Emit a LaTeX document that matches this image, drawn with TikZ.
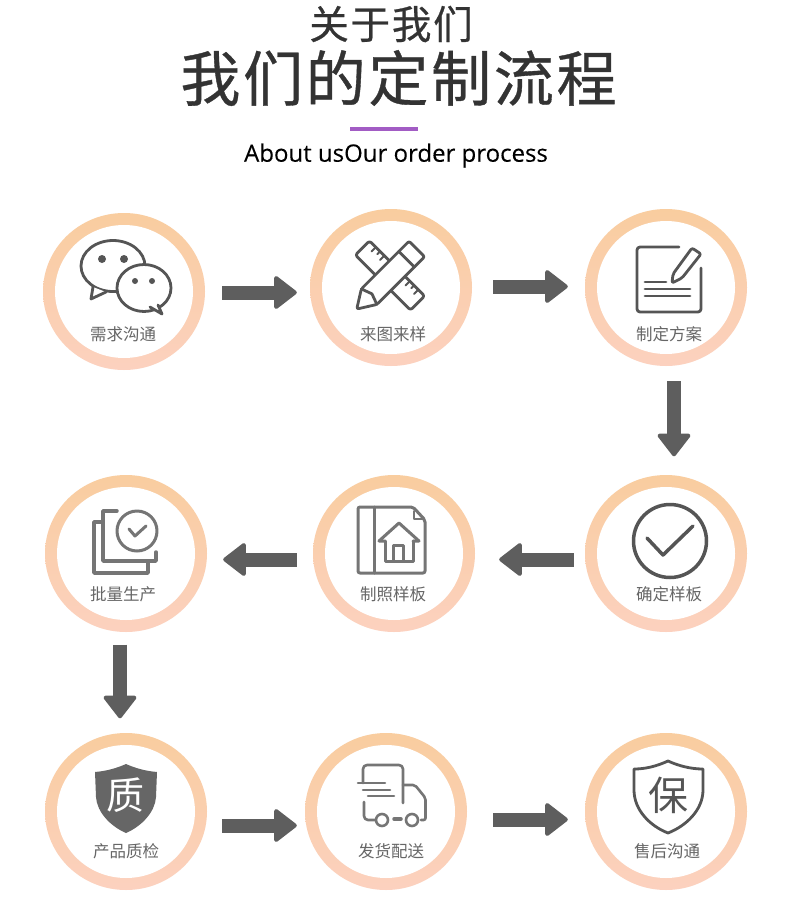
\documentclass[tikz,border=0pt]{standalone}
\usepackage{fontspec}
\usepackage{xcolor}
\usepackage{tikz}
\usetikzlibrary{arrows.meta,calc,positioning,shapes.geometric}
\setmainfont[FakeBold=0.15]{Open Sans}
\newfontfamily\cjk{Noto Sans CJK SC}
\newfontfamily\cjkwide[LetterSpace=4.5,FakeBold=0.6]{Noto Sans CJK SC}
\definecolor{Ink}{HTML}{333333}
\definecolor{Arrow}{HTML}{5E5E5E}
\definecolor{Icon}{HTML}{757575}
\definecolor{IconDark}{HTML}{555555}
\definecolor{Caption}{HTML}{666666}
\definecolor{Accent}{HTML}{A25CC4}
\definecolor{RingTop}{HTML}{F9CD9F}
\definecolor{RingBottom}{HTML}{FCD1BF}
\tikzset{
  ring/.style={ellipse,inner sep=0pt,minimum width=162pt,minimum height=157pt,top color=RingTop,bottom color=RingBottom,
    path picture={\fill[white] (path picture bounding box.center) ellipse (69pt and 66.5pt);}},
  caption/.style={Caption,inner sep=0pt,font=\cjk\fontsize{16.5}{18}\selectfont},
  flow/.style={Arrow,line width=14pt,-{Triangle[length=24pt,width=36pt,round,line width=4pt]}},
  icon/.style={Icon,line width=3pt,line cap=round,line join=round},
  icondark/.style={IconDark,line width=2.8pt,line cap=round,line join=round}
}
\begin{document}
\begin{tikzpicture}[x=1pt,y=-1pt,>=Latex]
  \fill[white] (0,0) rectangle (790,924);
  \node[Ink,inner sep=0pt,font=\cjkwide\fontsize{39.5}{40}\selectfont] (head) at (391,24) {关于我们};
  \node[Ink,inner sep=0pt,font=\cjkwide\fontsize{60}{62}\selectfont] (title) at (398.5,78) {我们的定制流程};
  \fill[Accent] (350,127) rectangle (418,130.5);
  \node[black,inner sep=0pt,font=\fontsize{24}{26}\selectfont] (sub) at (396,155.5) {About usOur order process};

  \foreach \name/\x/\y/\lx/\ly/\txt in {
    want/124/291.5/123/334/需求沟通, draft/391/287.5/393/334/来图来样, plan/666/287.5/669/334/制定方案,
    batch/126/553.5/123/594/批量生产, sample/394/553.5/393/594/制照样板, confirm/666/553.5/669/594/确定样板,
    check/126/811.5/126/851/产品质检, ship/386/811.5/391/851/发货配送, after/666/811.5/667/851/售后沟通}
  {
    \node[ring] (\name) at (\x,\y) {};
    \node[caption] (\name text) at (\lx,\ly) {\txt};
  }

  \draw[flow,shorten <=17pt,shorten >=13pt] ([yshift=-1pt]want.east) -- ([yshift=-5pt]draft.west);
  \draw[flow,shorten <=21pt,shorten >=17pt] ([yshift=1pt]draft.east) -- ([yshift=1pt]plan.west);
  \draw[flow,shorten <=15pt,shorten >=18.5pt] ([xshift=8pt]plan.south) -- ([xshift=8pt]confirm.north);
  \draw[flow,shorten <=11pt,shorten >=24pt] ([yshift=-6pt]confirm.west) -- ([yshift=-6pt]sample.east);
  \draw[flow,shorten <=16pt,shorten >=16pt] ([yshift=-6pt]sample.west) -- ([yshift=-6pt]batch.east);
  \draw[flow,shorten <=12.5pt,shorten >=14.5pt] ([xshift=-6pt]batch.south) -- ([xshift=-6pt]check.north);
  \draw[flow,shorten <=15pt,shorten >=8pt] ([yshift=-14pt]check.east) -- ([yshift=-14pt]ship.west);
  \draw[flow,shorten <=26pt,shorten >=17pt] ([yshift=-8pt]ship.east) -- ([yshift=-8pt]after.west);

  \draw[icondark,fill=white] (113,266) ellipse (32 and 25.5);
  \draw[icondark,fill=white] (93,287) -- (91,299) -- (106,292);
  \fill[IconDark] (102,259) circle (4) (124,259) circle (4);
  \draw[icondark,fill=white] (144,288) ellipse (27 and 23.5);
  \draw[icondark,fill=white] (150,307) -- (162,314) -- (158,305);
  \fill[IconDark] (135,281) circle (3) (152,281) circle (3);

  \begin{scope}[shift={(390,275.5)},rotate=-45]
    \draw[icondark,rounded corners=2.5pt] (-39,-10) rectangle (39,10);
    \foreach \t/\l in {-30/6,-24/4,-18/6,18/6,24/4,30/6}
      \draw[icondark,line width=2pt] (\t,-10) -- ++(0,\l);
  \end{scope}
  \begin{scope}[shift={(386.8,279)},rotate=45]
    \draw[icondark,fill=white,rounded corners=2pt] (-42.5,0) -- (-25,-11) -- (42.5,-11) -- (42.5,11) -- (-25,11) -- cycle;
    \draw[icondark] (28,-11) -- (28,11);
    \draw[icondark] (-25,-11) -- (-21,0) -- (-25,11);
  \end{scope}

  \draw[icondark,rounded corners=3pt] (679,247) -- (637,247) -- (637,312) -- (701,312) -- (701,268);
  \draw[icondark] (645,282) -- (666,282) (645,289) -- (690,289) (645,296) -- (690,296);
  \draw[icondark,rounded corners=2pt] (672,283) -- (673,274) -- (692,248) -- (701,254) -- (682,278) -- cycle;

  \draw[icon,line width=3.5pt] (103,522) -- (94,522) -- (94,573) -- (148,573) -- (148,562);
  \draw[icon,line width=3.5pt] (117,511) -- (103,511) -- (103,561) -- (156,561) -- (156,552);
  \draw[icon] (137,531) circle (20);
  \draw[icon] (129,529) -- (135,536) -- (146,526);

  \draw[icon,rounded corners=2pt] (358,507) -- (413,507) -- (425,520) -- (425,573) -- (358,573) -- cycle;
  \draw[icon] (374,507) -- (374,573);
  \draw[icon,line width=2pt] (414,511) -- (414,519) -- (423,519);
  \draw[icon] (385,541) -- (379,541) -- (399,523) -- (419,541) -- (413,541);
  \draw[icon] (385,541) -- (385,561) -- (413,561) -- (413,541);
  \draw[icon] (393,560) -- (393,545) -- (403,545) -- (403,560);

  \draw[icondark,line width=3.5pt] (670,541) circle (36.5);
  \draw[icondark,line width=3.5pt] (647,538) -- (663,555) -- (693,526);

  \fill[Caption] (95,772) .. controls (107,771) and (117,768) .. (126,764) .. controls (135,768) and (145,771) .. (157,772)
    -- (156,797) .. controls (155,812) and (142,826) .. (126,833) .. controls (110,826) and (97,812) .. (96,797) -- cycle;
  \node[white,inner sep=0pt,font=\cjk\fontsize{38}{40}\selectfont] (mark) at (125,795) {质};

  \draw[icon,line width=2.6pt,rounded corners=4pt] (363,783) -- (363,765) -- (403,765) -- (403,803);
  \draw[icon,line width=2.6pt,rounded corners=2pt] (403,785) -- (415,785) -- (425.5,798) -- (425.5,820) -- (421,820);
  \draw[icon,line width=2.6pt,rounded corners=4pt] (364,802) -- (364,820) -- (375,820);
  \draw[icon,line width=2.6pt] (382,820) circle (6) (412,820) circle (6);
  \draw[icon,line width=3.5pt] (394,819) -- (401,819);
  \draw[icon,line width=2.6pt] (358,783) -- (385,783) (363,790) -- (390,790) (368,796) -- (394,796);

  \draw[icondark] (668,761) .. controls (657,766) and (646,769) .. (634,769) -- (634,790)
    .. controls (634,810) and (650,826) .. (668,833) .. controls (686,826) and (703,810) .. (703,790) -- (703,769)
    .. controls (691,769) and (679,766) .. (668,761) -- cycle;
  \node[IconDark,inner sep=0pt,font=\cjk\fontsize{40}{42}\selectfont] (seal) at (668,795) {保};
\end{tikzpicture}
\end{document}
